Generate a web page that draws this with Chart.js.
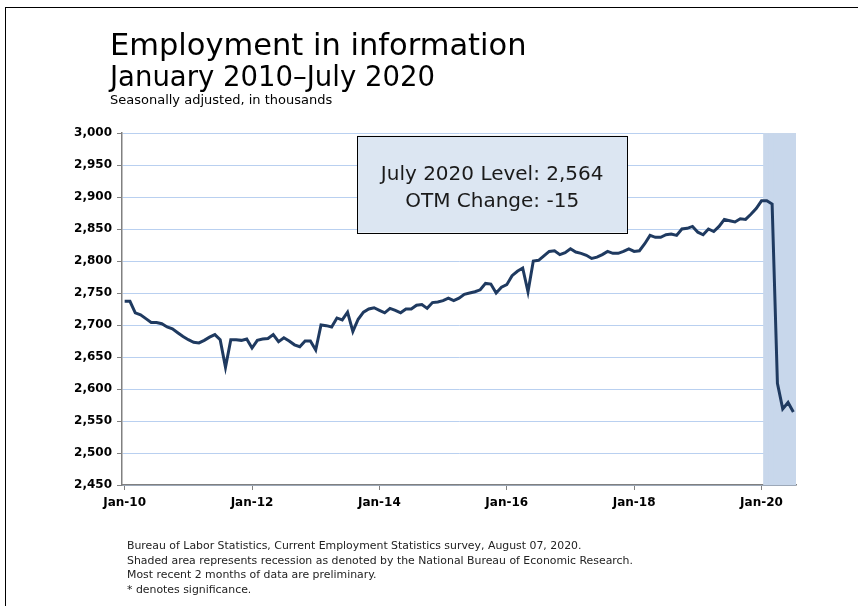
<!DOCTYPE html>
<html lang="en">
<head>
  <meta charset="UTF-8">
  <title>Employment in information</title>
  <script src="https://cdn.jsdelivr.net/npm/chart.js@4.4.0/dist/chart.umd.min.js"></script>
  <style>
    html, body { margin: 0; padding: 0; background: #fff; }
    #wrap { position: relative; width: 858px; height: 606px; overflow: hidden; }
    #frame { position: absolute; left: 5px; top: 7px; width: 900px; height: 700px; border-left: 1px solid #000; border-top: 1px solid #000; }
  </style>
</head>
<body>
  <div id="wrap">
    <div id="frame"></div>
    <canvas id="chart"></canvas>
  </div>

  <script>
    // Employment in information, seasonally adjusted, thousands (Jan 2010 - Jul 2020)
    const years = [10, 11, 12, 13, 14, 15, 16, 17, 18, 19, 20];
    const monthNames = ['Jan', 'Feb', 'Mar', 'Apr', 'May', 'Jun', 'Jul', 'Aug', 'Sep', 'Oct', 'Nov', 'Dec'];
    const employment = [
      2737, 2737, 2719, 2716, 2710, 2704, 2704, 2702, 2697, 2694, 2688, 2682, // 2010
      2677, 2673, 2672, 2676, 2681, 2685, 2677, 2634, 2677, 2677, 2676, 2678, // 2011
      2664, 2676, 2678, 2679, 2685, 2674, 2680, 2675, 2669, 2666, 2675, 2675, // 2012
      2661, 2700, 2699, 2697, 2711, 2708, 2720, 2690, 2709, 2720, 2725, 2727, // 2013
      2723, 2719, 2726, 2723, 2719, 2725, 2725, 2731, 2732, 2726, 2735, 2736, // 2014
      2738, 2742, 2738, 2742, 2748, 2750, 2752, 2755, 2765, 2764, 2750, 2759, // 2015
      2763, 2777, 2784, 2789, 2752, 2800, 2801, 2808, 2815, 2816, 2810, 2813, // 2016
      2819, 2814, 2812, 2809, 2804, 2806, 2810, 2815, 2812, 2812, 2815, 2819, // 2017
      2815, 2816, 2827, 2840, 2837, 2837, 2841, 2842, 2840, 2850, 2851, 2854, // 2018
      2845, 2841, 2850, 2846, 2854, 2865, 2863, 2861, 2866, 2865, 2873, 2882, // 2019
      2894, 2894, 2889, 2609, 2569, 2579, 2564                                // 2020
    ];
    // recession months (NBER), shaded
    const recessionMonths = ['Feb-20', 'Mar-20', 'Apr-20', 'May-20', 'Jun-20', 'Jul-20'];
    const shownLabels = ['Jan-10', 'Jan-12', 'Jan-14', 'Jan-16', 'Jan-18', 'Jan-20'];
    const yMin = 2450, yMax = 3000, yStep = 50;

    const titleLines = ['Employment in information', 'January 2010\u2013July 2020', 'Seasonally adjusted, in thousands'];
    const boxLines = ['July 2020 Level: 2,564', 'OTM Change: -15'];
    const notes = [
      'Bureau of Labor Statistics, Current Employment Statistics survey, August 07, 2020.',
      'Shaded area represents recession as denoted by the National Bureau of Economic Research.',
      'Most recent 2 months of data are preliminary.',
      '* denotes significance.'
    ];

    // category labels
    const labels = [];
    years.forEach(y => monthNames.forEach(m => labels.push(m + '-' + y)));
    labels.length = employment.length;

    const recessionBars = labels.map(l => recessionMonths.includes(l) ? [yMin, yMax] : null);

    // box placed in data coordinates (category index / value)
    const box = { x0: 43.8, x1: 94.7, y0: 2844.5, y1: 2996 };

    const FONT = "'DejaVu Sans', sans-serif";

    const textPlugin = {
      id: 'texts',
      afterDatasetsDraw(chart) {
        const ctx = chart.ctx;
        const xs = chart.scales.x, ys = chart.scales.y;
        // value box
        const left = xs.getPixelForValue(box.x0), right = xs.getPixelForValue(box.x1);
        const top = ys.getPixelForValue(box.y1), bottom = ys.getPixelForValue(box.y0);
        ctx.save();
        ctx.fillStyle = '#dce6f2';
        ctx.fillRect(left, top, right - left, bottom - top);
        ctx.strokeStyle = '#000';
        ctx.lineWidth = 1;
        ctx.strokeRect(Math.round(left) + 0.5, Math.round(top) + 0.5, Math.round(right - left), Math.round(bottom - top));
        ctx.fillStyle = '#1a1a1a';
        ctx.font = '20px ' + FONT;
        ctx.textAlign = 'center';
        ctx.textBaseline = 'alphabetic';
        const cx = (left + right) / 2, cy = (top + bottom) / 2;
        ctx.fillText(boxLines[0], cx, cy - 4);
        ctx.fillText(boxLines[1], cx, cy + 23);
        ctx.restore();
      },
      afterDraw(chart) {
        const ctx = chart.ctx;
        ctx.save();
        ctx.fillStyle = '#000';
        ctx.textAlign = 'left';
        ctx.textBaseline = 'alphabetic';
        ctx.font = '30.5px ' + FONT;
        ctx.fillText(titleLines[0], 110, 55);
        ctx.font = '27.5px ' + FONT;
        ctx.fillText(titleLines[1], 110, 86);
        ctx.font = '13px ' + FONT;
        ctx.fillText(titleLines[2], 110, 104);
        ctx.fillStyle = '#222';
        ctx.font = '10.9px ' + FONT;
        notes.forEach((t, i) => ctx.fillText(t, 127, 549 + i * 14.5));
        ctx.restore();
      }
    };

    new Chart(document.getElementById('chart'), {
      data: {
        labels: labels,
        datasets: [
          {
            type: 'line',
            label: 'Employment',
            data: employment,
            borderColor: '#1f3a60',
            borderWidth: 3,
            pointRadius: 0,
            tension: 0,
            order: 1
          },
          {
            type: 'bar',
            label: 'Recession',
            data: recessionBars,
            backgroundColor: '#c8d7eb',
            borderColor: '#c8d7eb',
            borderWidth: 0,
            inflateAmount: 1,
            barPercentage: 1,
            categoryPercentage: 1,
            order: 2
          }
        ]
      },
      options: {
        responsive: true,
        maintainAspectRatio: false,
        animation: false,
        layout: { padding: { left: 0, top: 133, right: 62, bottom: 91 } },
        plugins: {
          legend: { display: false },
          tooltip: { enabled: false }
        },
        scales: {
          x: {
            type: 'category',
            offset: true,
            afterFit: s => { s.height = 30; },
            grid: {
              offset: false,
              drawOnChartArea: false,
              drawTicks: true,
              tickLength: 5,
              tickColor: '#808080'
            },
            border: { display: true, color: '#808080', width: 1.5 },
            ticks: {
              autoSkip: false,
              maxRotation: 0,
              padding: 6,
              color: '#000',
              font: { family: FONT, size: 12, weight: 'bold' },
              callback: function (v, i) {
                const l = labels[i];
                return shownLabels.includes(l) ? l : null;
              }
            }
          },
          y: {
            min: yMin,
            max: yMax,
            afterFit: s => { s.width = 122; },
            grid: {
              color: '#b9d0f0',
              lineWidth: 1,
              drawTicks: true,
              tickLength: 5,
              tickColor: '#808080'
            },
            border: { display: true, color: '#808080', width: 1.5 },
            ticks: {
              stepSize: yStep,
              padding: 5,
              color: '#000',
              font: { family: FONT, size: 12, weight: 'bold' }
            }
          }
        }
      },
      plugins: [textPlugin]
    });
  </script>
</body>
</html>
